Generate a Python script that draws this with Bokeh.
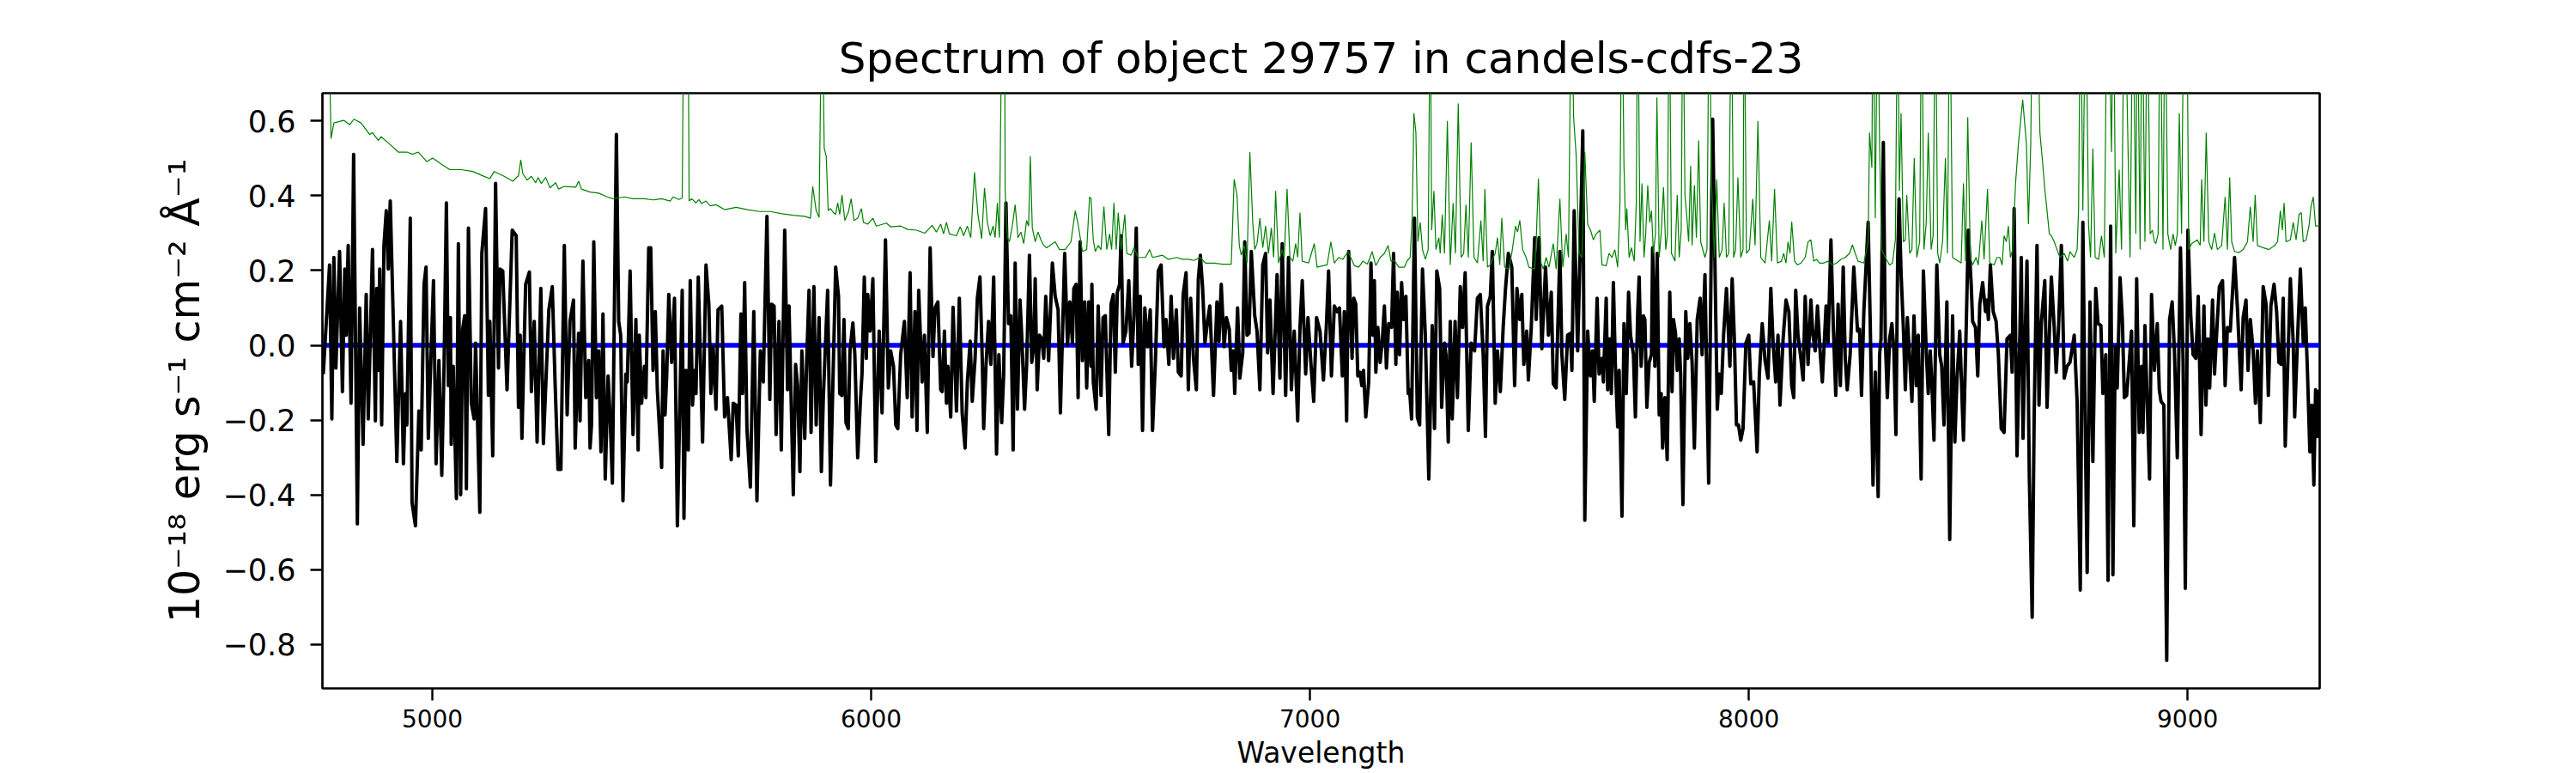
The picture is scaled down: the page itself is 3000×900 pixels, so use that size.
from bokeh.plotting import figure
from bokeh.models import Range1d, FixedTicker, CustomJSTickFormatter, Span
from bokeh.embed import file_html
from bokeh.resources import INLINE

# ---------------- data ----------------
# Object spectrum (black), in 1e-18 erg/s/cm2/A, by wavelength segment (Angstrom)
wl_a = [4751.4, 4765.8, 4771.0, 4775.6, 4780.1, 4788.6, 4795.1, 4800.4, 4803.6, 4808.2, 4814.7, 4820.6, 4829.1, 4834.3, 4842.1, 4849.3, 4853.9, 4863.6, 4870.2, 4873.4, 4876.7, 4880.0, 4884.5, 4889.7, 4895.0, 4899.5, 4904.1, 4919.1, 4927.6, 4934.1, 4938.7, 4941.9, 4949.7, 4953.7, 4961.5, 4969.3, 4974.5, 4981.1, 4985.6, 4990.8, 5002.6, 5008.5, 5015.0, 5021.5, 5026.7, 5032.0, 5036.5, 5041.1, 5043.0, 5047.6, 5054.8, 5059.3, 5064.5, 5069.1, 5073.7, 5077.6, 5082.2, 5088.7, 5095.2, 5098.5, 5108.2, 5112.8, 5121.3, 5127.8, 5131.1, 5137.6, 5144.1, 5150.7, 5153.9, 5160.4, 5170.2, 5182.0, 5191.1, 5196.3, 5200.2, 5204.1, 5212.6, 5221.1, 5225.7, 5232.2, 5238.7, 5247.2, 5253.1, 5265.5, 5273.3, 5279.8, 5286.3, 5292.9, 5300.7, 5307.2, 5313.7, 5321.6, 5325.5]
fx_a = [-0.077, 0.215, -0.197, 0.235, -0.061, 0.251, -0.124, 0.204, 0.027, 0.267, -0.155, 0.511, -0.478, 0.100, -0.265, 0.136, -0.197, 0.256, -0.202, 0.152, -0.067, 0.204, -0.213, 0.267, 0.360, 0.204, 0.386, -0.311, 0.064, -0.317, -0.129, -0.213, 0.340, -0.421, -0.483, -0.176, -0.280, 0.163, 0.209, -0.249, 0.173, -0.317, -0.041, -0.348, -0.056, 0.381, -0.108, 0.074, -0.265, -0.056, -0.410, 0.272, -0.400, 0.043, 0.079, -0.384, 0.314, -0.155, -0.197, 0.006, -0.447, 0.246, 0.366, -0.134, 0.064, -0.296, 0.433, -0.061, 0.204, 0.199, -0.119, 0.308, 0.293, -0.166, 0.027, -0.249, 0.163, 0.196, -0.124, 0.064, -0.259, 0.152, -0.263, 0.095, 0.157, -0.103, -0.332, -0.332, 0.267, -0.186, 0.064, 0.121, -0.275]

wl_b = [5333.3, 5336.6, 5343.1, 5349.6, 5356.2, 5359.4, 5362.7, 5367.9, 5373.8, 5379.0, 5384.2, 5388.8, 5394.0, 5400.5, 5405.1, 5410.3, 5419.4, 5424.7, 5429.2, 5434.4, 5441.0, 5444.2, 5450.7, 5457.3, 5463.8, 5469.0, 5471.6, 5476.8, 5483.4, 5486.6, 5493.1, 5497.7, 5502.9, 5508.1, 5512.7, 5522.5, 5525.8, 5530.3, 5534.2, 5538.8, 5545.3, 5551.8, 5558.4, 5569.4, 5573.4, 5577.9, 5583.2, 5587.7, 5592.9, 5597.5, 5600.8, 5606.0, 5615.8, 5623.6, 5630.1, 5634.7, 5639.9, 5646.4, 5651.0, 5659.5, 5666.0, 5672.5, 5681.0, 5685.6, 5692.1, 5697.3, 5703.2, 5707.1, 5711.7, 5716.9, 5724.7, 5732.5, 5739.7, 5747.5, 5754.1, 5762.5, 5769.1, 5773.0, 5778.8, 5783.4, 5789.9, 5795.2, 5803.0, 5809.5, 5812.8, 5817.3, 5822.6, 5827.8, 5832.3, 5837.6, 5842.1, 5848.6, 5853.2, 5858.4, 5863.0, 5869.5, 5874.7, 5881.3, 5886.5, 5891.0, 5900.8, 5907.3]
fx_b = [0.032, -0.202, 0.225, -0.140, -0.041, -0.275, -0.213, 0.277, -0.140, -0.015, -0.285, 0.084, -0.358, -0.082, -0.192, -0.369, 0.564, 0.064, 0.027, -0.416, -0.077, -0.098, 0.199, -0.239, 0.069, -0.280, 0.027, -0.155, -0.056, -0.140, 0.261, 0.261, -0.067, 0.090, -0.119, -0.327, -0.015, -0.186, -0.077, 0.136, -0.046, 0.126, -0.483, 0.147, -0.463, -0.067, -0.280, 0.173, -0.160, -0.067, -0.129, 0.183, -0.259, 0.215, 0.110, -0.129, -0.004, -0.171, 0.095, 0.105, -0.192, -0.140, -0.306, -0.155, -0.160, -0.296, 0.084, -0.129, 0.168, -0.223, -0.379, 0.090, -0.416, -0.015, -0.098, 0.345, -0.145, 0.110, 0.105, -0.239, 0.064, -0.280, 0.308, -0.119, 0.105, -0.129, -0.400, -0.051, -0.108, -0.338, -0.015, -0.249, -0.035, 0.147, -0.233, 0.157, -0.213, 0.074, -0.338, -0.140, 0.147, -0.374]

wl_c = [5919.1, 5925.6, 5928.3, 5933.5, 5938.0, 5942.6, 5947.8, 5951.7, 5958.3, 5962.8, 5969.3, 5975.9, 5979.1, 5984.3, 5988.9, 5992.2, 5997.4, 6003.9, 6010.4, 6018.3, 6024.8, 6032.6, 6039.1, 6044.4, 6050.9, 6056.1, 6060.7, 6067.2, 6075.7, 6082.2, 6088.7, 6093.3, 6099.8, 6104.4, 6108.3, 6116.1, 6121.3, 6127.9, 6134.4, 6140.9, 6145.5, 6152.0, 6158.5, 6161.8, 6167.0, 6171.6, 6174.8, 6181.3, 6186.6, 6194.4, 6200.9, 6207.4, 6214.0, 6219.2, 6225.7, 6230.3, 6236.8, 6242.0, 6247.9, 6253.1, 6256.4, 6261.6, 6267.5, 6272.7, 6279.2, 6285.7, 6291.0, 6297.5, 6302.0, 6307.2, 6313.1, 6318.3, 6323.5, 6328.1, 6333.3, 6339.2, 6343.1, 6349.6, 6354.2, 6360.7, 6365.9, 6370.5, 6373.8, 6378.3, 6383.6, 6388.8, 6393.3, 6397.9, 6404.4, 6412.9, 6419.4, 6426.0, 6431.2, 6441.0, 6447.5, 6452.7, 6458.6, 6461.8, 6467.1, 6471.6, 6476.2, 6481.4, 6486.6, 6491.2, 6495.8, 6501.0]
fx_c = [0.209, 0.131, -0.129, -0.134, 0.069, -0.207, -0.223, -0.015, 0.060, -0.025, -0.301, -0.140, -0.077, 0.183, -0.035, 0.136, 0.038, 0.178, -0.311, 0.038, -0.181, 0.282, -0.114, -0.015, -0.056, -0.213, -0.223, -0.025, 0.064, -0.140, 0.194, -0.192, 0.090, -0.228, 0.147, -0.098, 0.027, -0.233, 0.261, -0.030, 0.100, 0.116, -0.119, -0.124, 0.038, -0.155, -0.056, -0.192, 0.102, -0.176, 0.126, -0.181, -0.275, -0.098, 0.011, -0.150, -0.035, 0.126, 0.183, -0.035, -0.223, -0.056, 0.064, -0.051, 0.183, -0.291, -0.025, -0.207, -0.077, 0.381, 0.058, 0.079, -0.280, 0.220, -0.171, 0.121, 0.027, -0.171, -0.056, 0.241, -0.046, -0.004, 0.178, -0.119, 0.027, 0.017, -0.035, 0.131, -0.041, 0.220, 0.131, 0.095, -0.181, 0.246, 0.001, 0.116, 0.006, 0.152, 0.163, -0.140, 0.277, -0.041, 0.116, -0.114, 0.116, -0.056]

wl_d = [6503.0, 6506.2, 6512.7, 6517.3, 6523.8, 6528.4, 6533.6, 6541.4, 6546.7, 6551.9, 6556.4, 6561.0, 6566.2, 6569.5, 6574.1, 6580.6, 6587.1, 6593.6, 6598.8, 6604.1, 6608.6, 6613.2, 6618.4, 6623.6, 6630.2, 6636.0, 6641.2, 6647.8, 6654.3, 6660.8, 6667.3, 6671.9, 6678.4, 6683.6, 6688.9, 6695.4, 6700.0, 6706.5, 6711.0, 6717.6, 6722.8, 6728.0, 6734.5, 6741.1, 6745.6, 6750.2, 6755.4, 6760.6, 6767.1, 6771.7, 6780.2, 6788.0, 6792.6, 6797.8, 6804.3, 6809.5, 6816.1, 6820.6, 6825.2, 6828.5, 6835.0, 6840.2, 6846.7, 6851.3, 6856.5, 6861.1, 6866.3, 6874.1, 6879.3, 6885.9, 6892.4, 6898.9, 6903.5, 6908.7, 6915.9, 6925.0, 6931.5, 6936.7, 6944.6, 6951.1, 6957.6, 6964.1, 6972.0, 6977.2, 6982.4, 6990.2, 6995.4, 7002.0, 7008.5, 7015.0, 7022.8, 7030.7, 7037.2, 7042.4, 7048.9, 7055.5, 7062.0, 7067.2, 7073.7, 7078.3, 7083.5, 7088.1]
fx_d = [0.163, -0.098, -0.171, 0.105, -0.134, 0.074, 0.079, -0.239, 0.110, 0.136, -0.072, 0.142, 0.163, 0.293, 0.006, 0.038, 0.173, -0.056, 0.079, 0.314, -0.051, 0.131, -0.228, 0.100, -0.004, 0.095, -0.228, -0.041, 0.199, 0.215, -0.004, 0.069, -0.051, 0.131, -0.035, 0.095, -0.072, -0.082, 0.136, 0.194, -0.119, 0.126, -0.035, -0.119, 0.178, 0.241, 0.152, 0.006, 0.069, 0.105, -0.134, 0.116, 0.011, 0.163, -0.004, 0.074, 0.043, -0.067, -0.015, -0.129, 0.100, -0.088, -0.020, 0.277, 0.027, 0.032, 0.251, 0.079, 0.038, -0.119, 0.215, 0.246, -0.020, 0.121, -0.129, 0.189, -0.088, 0.272, -0.134, 0.235, -0.119, 0.038, -0.202, 0.048, 0.173, -0.077, 0.074, -0.046, -0.150, 0.074, 0.038, -0.093, 0.048, 0.199, -0.082, 0.105, 0.090, 0.100, -0.082, 0.090, -0.202, 0.251]

wl_e = [7095.9, 7099.8, 7104.4, 7109.0, 7114.2, 7118.1, 7122.0, 7127.2, 7133.8, 7139.0, 7143.5, 7146.8, 7150.1, 7154.6, 7159.9, 7165.1, 7169.6, 7174.2, 7179.4, 7185.9, 7190.5, 7195.7, 7199.0, 7204.2, 7208.8, 7213.3, 7218.6, 7223.8, 7227.0, 7231.6, 7238.1, 7244.7, 7249.9, 7256.4, 7262.9, 7270.8, 7278.6, 7283.8, 7289.0, 7295.5, 7300.1, 7306.6, 7309.9, 7315.1, 7319.7, 7324.2, 7330.7, 7336.0, 7342.5, 7347.7, 7353.6, 7360.8, 7367.3, 7375.1, 7381.6, 7388.2, 7394.7, 7399.9, 7404.5, 7411.0, 7415.5, 7422.1, 7427.3, 7433.8, 7440.3, 7445.6, 7452.1, 7459.9, 7466.4, 7471.7, 7478.2, 7482.7, 7487.3, 7493.8, 7497.7, 7504.3, 7512.1, 7515.4, 7521.9, 7528.4, 7536.9, 7543.4, 7549.9, 7554.5, 7561.0, 7569.5, 7574.1, 7580.6, 7587.1, 7593.6, 7596.9, 7602.1, 7610.0, 7615.2, 7621.7, 7626.3, 7632.8, 7639.3, 7643.9, 7647.8, 7654.3, 7658.9, 7665.4, 7668.6, 7675.1]
fx_e = [-0.035, 0.126, 0.110, -0.082, -0.072, -0.108, -0.067, -0.192, -0.098, 0.220, 0.027, 0.173, -0.072, 0.048, -0.046, 0.017, 0.105, -0.061, 0.058, 0.048, 0.246, -0.051, 0.142, -0.025, 0.168, 0.069, 0.131, -0.129, -0.119, -0.197, 0.340, -0.192, -0.213, 0.204, 0.027, -0.358, 0.053, -0.223, 0.199, 0.152, -0.166, 0.006, -0.025, -0.259, 0.064, -0.197, 0.064, -0.140, 0.157, 0.048, 0.194, -0.228, 0.006, -0.015, 0.126, 0.136, -0.025, -0.244, 0.105, 0.131, 0.251, -0.155, -0.015, -0.124, 0.048, 0.152, 0.246, 0.209, -0.108, 0.152, 0.069, 0.136, -0.051, 0.038, -0.093, 0.048, 0.288, 0.069, 0.288, -0.009, 0.209, 0.027, 0.142, -0.103, -0.114, 0.251, -0.025, -0.145, 0.027, 0.032, -0.067, 0.360, -0.015, 0.230, 0.574, -0.468, 0.038, -0.082, -0.015, -0.150, 0.126, -0.077, -0.035, -0.098, 0.126]

wl_f = [7678.4, 7682.9, 7686.8, 7691.4, 7696.0, 7701.2, 7704.5, 7711.0, 7715.5, 7720.8, 7726.0, 7730.5, 7737.1, 7741.6, 7746.9, 7750.1, 7754.7, 7759.9, 7763.2, 7767.7, 7772.9, 7778.2, 7780.8, 7786.0, 7791.2, 7795.8, 7800.3, 7803.6, 7808.8, 7814.0, 7819.9, 7825.1, 7828.4, 7833.0, 7836.9, 7841.4, 7844.7, 7849.9, 7856.4, 7861.0, 7865.6, 7870.8, 7876.0, 7882.5, 7889.1, 7893.6, 7900.1, 7908.6, 7917.7, 7924.3, 7928.2, 7932.7, 7937.3, 7942.5, 7949.1, 7956.9, 7962.1, 7967.3, 7971.9, 7976.5, 7981.7, 7986.9, 7993.4, 8000.0, 8004.5, 8011.0, 8018.9, 8024.1, 8030.6, 8037.1, 8043.7, 8050.2, 8055.4, 8061.3, 8066.5, 8071.1, 8078.2, 8084.8, 8091.3, 8097.8, 8102.4, 8106.9, 8112.1, 8118.7, 8123.9, 8128.5, 8135.0, 8141.5, 8146.1, 8151.3, 8156.5, 8163.0, 8167.6, 8176.1, 8180.6, 8187.2, 8192.4, 8198.2, 8203.5, 8208.7, 8215.2, 8219.8, 8224.3, 8230.9, 8239.3, 8247.8, 8252.4, 8256.9, 8262.2]
fx_f = [-0.119, 0.017, -0.129, 0.168, -0.056, -0.218, -0.067, -0.457, 0.058, -0.129, 0.142, 0.027, -0.025, -0.192, 0.090, 0.183, -0.056, 0.079, 0.069, -0.166, -0.046, -0.025, 0.261, -0.056, 0.246, -0.186, -0.129, -0.275, -0.140, -0.306, 0.142, -0.124, 0.069, 0.032, -0.067, 0.017, -0.077, -0.426, 0.090, -0.035, 0.058, -0.046, -0.275, 0.069, 0.126, -0.025, 0.189, -0.369, 0.605, 0.110, -0.171, -0.077, -0.129, 0.027, 0.152, -0.056, 0.178, 0.011, -0.213, -0.213, -0.254, -0.223, 0.006, 0.027, -0.103, -0.098, -0.285, -0.077, 0.058, -0.041, -0.088, 0.152, 0.006, -0.098, 0.027, -0.160, 0.017, 0.121, 0.090, -0.108, -0.140, 0.147, 0.027, -0.035, -0.093, 0.131, -0.051, 0.121, 0.027, -0.015, 0.105, -0.025, -0.098, 0.105, 0.006, 0.282, 0.058, -0.134, 0.110, -0.108, 0.209, -0.035, -0.119, -0.025, 0.209, 0.038, 0.043, -0.134, 0.090]

wl_g = [8272.0, 8276.6, 8283.1, 8288.3, 8294.8, 8298.1, 8301.3, 8306.6, 8311.1, 8315.7, 8320.9, 8326.1, 8330.7, 8335.3, 8339.2, 8342.4, 8347.0, 8352.2, 8356.8, 8361.3, 8366.6, 8371.8, 8376.4, 8381.6, 8386.1, 8392.7, 8397.9, 8404.4, 8409.0, 8413.5, 8417.4, 8422.0, 8428.5, 8435.1, 8439.6, 8444.8, 8451.4, 8457.9, 8464.4, 8469.6, 8474.2, 8480.7, 8489.2, 8495.7, 8500.3, 8506.8, 8510.1, 8516.6, 8521.8, 8526.4, 8532.9, 8539.4, 8542.7, 8546.0, 8550.5, 8557.0, 8563.6, 8568.8, 8575.3, 8581.8, 8588.4, 8596.2, 8600.1, 8604.7, 8611.2, 8617.7, 8621.0, 8624.9, 8628.8, 8634.0, 8639.2, 8645.8, 8650.3, 8656.8, 8661.4, 8666.6, 8674.5, 8679.7, 8684.9, 8689.5, 8696.0, 8700.5, 8705.8, 8712.3, 8718.8, 8725.3, 8731.9, 8741.6, 8748.2]
fx_g = [0.329, 0.069, -0.374, -0.072, -0.405, -0.025, 0.017, 0.543, 0.017, -0.140, 0.017, 0.058, -0.015, -0.239, 0.225, 0.392, 0.194, 0.048, -0.119, 0.074, -0.035, -0.150, 0.079, -0.108, 0.027, -0.358, 0.199, -0.015, -0.129, -0.015, -0.108, -0.254, 0.215, -0.025, -0.056, -0.213, 0.116, -0.520, 0.079, -0.259, -0.098, 0.038, -0.254, 0.058, 0.308, 0.163, 0.064, 0.048, -0.082, 0.110, 0.168, 0.090, 0.121, 0.069, 0.215, 0.090, 0.064, -0.025, -0.223, -0.233, 0.017, 0.027, -0.072, 0.366, -0.296, 0.027, 0.235, -0.249, -0.025, 0.225, -0.348, -0.728, -0.192, 0.267, -0.160, 0.058, 0.173, -0.166, 0.027, 0.183, 0.048, -0.072, 0.043, 0.267, -0.088, -0.056, -0.046, 0.027, -0.150]

wl_h = [8755.4, 8761.3, 8765.9, 8771.1, 8777.6, 8784.1, 8790.6, 8795.9, 8802.4, 8807.0, 8813.5, 8818.7, 8824.6, 8829.8, 8835.0, 8839.6, 8846.1, 8851.3, 8855.9, 8861.1, 8867.6, 8872.2, 8877.4, 8883.9, 8889.8, 8895.0, 8898.3, 8902.8, 8908.1, 8913.3, 8917.8, 8924.4, 8930.9, 8935.5, 8939.4, 8945.9, 8952.4, 8958.9, 8964.8, 8970.0, 8976.5, 8983.7, 8989.6, 8994.8, 9000.7, 9007.2, 9012.4, 9018.9, 9024.2, 9030.7, 9037.2, 9041.8, 9046.3, 9050.3, 9056.8, 9061.3, 9067.9, 9072.4, 9079.6, 9085.5, 9090.7, 9097.2, 9107.0, 9113.5, 9122.0, 9126.6, 9133.1, 9137.7, 9142.9, 9149.4, 9154.6, 9159.2, 9165.7, 9172.2, 9178.8, 9184.0, 9189.8, 9197.0, 9202.9, 9208.1, 9213.3, 9217.9, 9222.5, 9229.0, 9234.2, 9240.7, 9244.0, 9250.5, 9257.0, 9263.6, 9268.1, 9273.3, 9278.6, 9283.1, 9287.7, 9291.6, 9296.2, 9299.4]
fx_h = [-0.655, 0.329, -0.140, -0.608, 0.116, -0.311, 0.152, 0.058, 0.053, -0.129, -0.025, -0.629, 0.319, -0.614, -0.004, -0.114, 0.181, 0.069, -0.140, -0.134, -0.035, 0.038, -0.483, 0.178, -0.233, -0.056, -0.233, 0.053, -0.160, -0.358, 0.136, -0.067, 0.058, -0.119, -0.150, -0.160, -0.843, 0.069, 0.116, -0.015, -0.301, 0.261, -0.035, -0.650, 0.308, 0.079, -0.025, -0.035, 0.131, -0.239, 0.105, -0.160, 0.017, -0.114, 0.121, -0.077, 0.069, 0.157, 0.173, -0.108, 0.048, 0.038, 0.235, 0.100, -0.119, 0.074, 0.121, -0.067, 0.069, -0.015, -0.155, -0.015, -0.207, 0.157, 0.110, -0.134, 0.105, 0.163, 0.090, -0.046, -0.051, 0.126, -0.270, -0.025, 0.178, 0.006, -0.192, 0.017, 0.204, 0.006, 0.100, -0.077, -0.285, -0.160, -0.374, -0.119, -0.244, -0.119]

# Noise / sky spectrum (green); sky-line peaks run far above the top of the axes
gwl_a = [4762.0, 4769.1, 4775.6, 4798.4, 4811.5, 4821.2, 4837.5, 4857.1, 4863.6, 4876.7, 4883.2, 4902.8, 4922.3, 4941.9, 4955.0, 4968.0, 4987.6, 5000.6, 5020.2, 5039.8, 5065.9, 5092.0, 5118.0, 5131.1, 5140.9, 5163.7, 5183.3, 5196.3, 5201.5, 5206.1, 5215.9, 5225.7, 5235.5, 5240.7, 5248.5, 5258.3, 5268.1, 5281.1, 5287.6, 5300.7, 5326.8]
gv_a = [1.0, 0.553, 0.595, 0.602, 0.590, 0.605, 0.595, 0.564, 0.569, 0.548, 0.558, 0.538, 0.517, 0.517, 0.511, 0.517, 0.491, 0.501, 0.485, 0.470, 0.470, 0.465, 0.452, 0.446, 0.465, 0.452, 0.439, 0.454, 0.496, 0.459, 0.442, 0.452, 0.435, 0.449, 0.433, 0.449, 0.421, 0.435, 0.418, 0.425, 0.423]

gwl_b = [5333.3, 5339.8, 5359.4, 5379.0, 5398.6, 5411.6, 5437.7, 5457.3, 5483.4, 5502.9, 5522.5, 5542.1, 5548.6, 5561.6, 5569.4, 5573.4, 5582.5, 5585.1, 5591.0, 5600.8, 5607.3, 5613.8, 5623.6, 5633.4, 5646.4, 5666.0, 5692.1, 5718.2, 5744.3, 5770.4, 5796.5, 5822.6, 5848.6, 5861.7, 5866.9, 5874.7, 5881.3, 5887.8, 5893.0, 5897.6, 5902.1, 5907.3, 5913.9]
gv_b = [0.439, 0.418, 0.410, 0.407, 0.397, 0.392, 0.397, 0.392, 0.392, 0.389, 0.392, 0.386, 0.397, 0.390, 0.394, 1.0, 1.0, 0.386, 0.392, 0.381, 0.390, 0.379, 0.386, 0.373, 0.376, 0.363, 0.369, 0.363, 0.358, 0.358, 0.352, 0.348, 0.345, 0.340, 0.425, 0.360, 0.342, 1.0, 0.527, 0.506, 0.360, 0.366, 0.355]

gwl_c = [5919.1, 5923.7, 5928.3, 5933.5, 5940.0, 5947.8, 5954.3, 5960.9, 5969.3, 5977.8, 5982.4, 5992.2, 6003.9, 6011.7, 6034.6, 6044.4, 6067.2, 6083.5, 6103.1, 6122.6, 6138.9, 6148.7, 6158.5, 6165.0, 6171.6, 6178.1, 6194.4, 6202.9, 6210.7, 6219.2, 6227.0, 6235.5, 6243.3, 6251.8, 6258.3, 6264.8, 6271.4, 6277.9, 6282.5, 6287.7, 6292.2, 6298.8, 6304.0, 6305.3, 6310.5, 6315.1, 6321.6, 6328.1, 6334.6, 6341.2, 6347.7, 6354.2, 6358.8, 6362.7, 6367.2, 6373.8, 6380.3, 6386.8, 6393.3, 6399.9, 6412.9, 6419.4, 6429.2, 6442.3, 6455.3, 6465.1, 6471.6, 6481.4, 6491.2, 6497.7]
gv_c = [0.350, 0.381, 0.350, 0.402, 0.334, 0.355, 0.392, 0.334, 0.340, 0.366, 0.329, 0.324, 0.340, 0.319, 0.327, 0.317, 0.319, 0.310, 0.308, 0.300, 0.321, 0.303, 0.324, 0.298, 0.329, 0.298, 0.293, 0.317, 0.293, 0.319, 0.288, 0.463, 0.350, 0.285, 0.421, 0.329, 0.293, 0.319, 0.288, 0.381, 0.288, 1.0, 1.0, 0.413, 0.288, 0.277, 0.319, 0.376, 0.288, 0.303, 0.272, 0.334, 0.319, 0.506, 0.314, 0.277, 0.303, 0.282, 0.267, 0.261, 0.272, 0.277, 0.256, 0.256, 0.277, 0.360, 0.324, 0.251, 0.256, 0.397]

gwl_d = [6501.0, 6506.2, 6510.8, 6517.3, 6523.8, 6530.4, 6536.9, 6543.4, 6548.0, 6553.2, 6558.4, 6563.0, 6569.5, 6578.0, 6582.5, 6592.3, 6598.8, 6608.6, 6624.9, 6634.7, 6641.2, 6664.1, 6677.1, 6696.7, 6709.7, 6722.8, 6735.8, 6748.9, 6761.9, 6781.5, 6801.1, 6820.6, 6827.2, 6833.7, 6838.9, 6843.5, 6850.0, 6856.5, 6863.0, 6869.6, 6874.1, 6879.3, 6885.9, 6892.4, 6898.9, 6905.4, 6912.0, 6917.2, 6921.7, 6928.3, 6936.7, 6941.3, 6947.8, 6954.3, 6960.9, 6967.4, 6972.0, 6977.2, 6982.4, 6996.7, 7003.3, 7009.8, 7016.3, 7029.4, 7039.1, 7047.6, 7055.5, 7065.2, 7075.0, 7086.8]
gv_d = [0.392, 0.282, 0.251, 0.267, 0.256, 0.371, 0.256, 0.298, 0.256, 0.381, 0.256, 0.355, 0.256, 0.350, 0.246, 0.241, 0.261, 0.235, 0.235, 0.256, 0.235, 0.241, 0.230, 0.235, 0.230, 0.230, 0.227, 0.235, 0.220, 0.220, 0.217, 0.217, 0.444, 0.402, 0.267, 0.241, 0.267, 0.220, 0.517, 0.329, 0.256, 0.272, 0.340, 0.261, 0.319, 0.246, 0.314, 0.235, 0.413, 0.220, 0.256, 0.235, 0.418, 0.235, 0.225, 0.272, 0.235, 0.355, 0.225, 0.220, 0.246, 0.272, 0.209, 0.213, 0.215, 0.277, 0.220, 0.235, 0.230, 0.251]

gwl_e = [7101.1, 7110.9, 7120.7, 7130.5, 7137.0, 7141.6, 7150.1, 7159.9, 7169.6, 7178.1, 7184.6, 7192.5, 7202.3, 7215.3, 7221.8, 7228.3, 7232.9, 7236.8, 7241.4, 7245.9, 7251.2, 7256.4, 7262.9, 7269.4, 7274.0, 7277.3, 7282.5, 7287.0, 7293.6, 7296.8, 7301.4, 7306.6, 7313.1, 7319.7, 7326.2, 7331.4, 7337.9, 7344.5, 7350.3, 7355.5, 7360.8, 7367.3, 7373.8, 7381.6, 7389.5, 7394.7, 7398.6, 7404.5, 7411.0, 7417.5, 7422.1, 7427.3, 7432.5, 7437.1, 7443.6, 7453.4, 7461.2, 7468.4, 7473.0, 7478.2, 7484.7, 7492.5, 7499.0, 7512.1, 7515.4, 7520.6, 7526.4, 7531.7, 7538.2, 7544.7, 7554.5, 7561.0, 7569.5, 7576.0, 7583.9, 7589.1, 7595.6, 7600.8, 7606.7, 7613.2, 7619.7, 7626.3, 7632.8, 7639.3, 7645.8, 7652.3, 7660.8, 7665.4, 7675.1]
gv_e = [0.213, 0.209, 0.225, 0.217, 0.235, 0.251, 0.213, 0.235, 0.246, 0.267, 0.225, 0.227, 0.209, 0.209, 0.227, 0.235, 0.340, 0.621, 0.569, 0.277, 0.329, 0.256, 0.230, 0.256, 1.0, 0.308, 0.413, 0.256, 0.288, 0.246, 0.350, 0.246, 0.600, 0.215, 0.381, 0.246, 0.647, 0.235, 0.246, 0.376, 0.235, 0.543, 0.235, 0.220, 0.334, 0.225, 0.418, 0.209, 0.215, 0.235, 0.246, 0.288, 0.215, 0.340, 0.209, 0.204, 0.256, 0.319, 0.303, 0.334, 0.256, 0.235, 0.209, 0.204, 0.277, 0.446, 0.220, 0.204, 0.235, 0.209, 0.272, 0.204, 0.392, 0.209, 0.298, 0.235, 1.0, 0.610, 0.506, 0.246, 0.235, 0.517, 0.324, 0.308, 0.282, 0.298, 0.308, 0.215, 0.213]

gwl_f = [7681.6, 7688.1, 7694.7, 7701.2, 7706.4, 7711.0, 7715.5, 7719.5, 7722.1, 7727.3, 7732.5, 7739.0, 7743.6, 7746.9, 7752.1, 7756.6, 7761.2, 7765.1, 7769.7, 7774.3, 7778.2, 7782.7, 7787.3, 7790.6, 7795.8, 7800.3, 7805.6, 7810.8, 7814.7, 7818.6, 7823.8, 7831.7, 7836.9, 7841.4, 7846.0, 7849.9, 7854.5, 7859.0, 7862.9, 7867.5, 7870.8, 7876.0, 7880.6, 7885.8, 7890.4, 7900.1, 7904.7, 7909.9, 7915.1, 7921.7, 7926.9, 7932.7, 7939.3, 7943.8, 7949.1, 7954.3, 7960.2, 7965.4, 7969.9, 7975.2, 7981.7, 7986.9, 7989.5, 7994.7, 8001.3, 8009.1, 8014.3, 8020.8, 8027.3, 8037.1, 8046.9, 8052.1, 8058.7, 8065.2, 8074.3, 8079.5, 8084.8, 8089.3, 8093.9, 8097.8, 8104.3, 8110.9, 8118.7, 8128.5, 8135.0, 8141.5, 8148.0, 8154.5, 8161.1, 8170.8, 8180.6, 8190.4, 8200.2, 8210.0, 8219.8, 8229.5, 8236.1, 8242.6, 8249.1, 8262.2]
gv_f = [0.246, 0.235, 0.256, 0.209, 0.381, 1.0, 0.485, 0.308, 0.366, 0.235, 0.261, 0.225, 0.381, 1.0, 0.277, 0.433, 0.235, 0.298, 0.428, 0.329, 0.360, 0.246, 0.298, 0.663, 0.235, 0.298, 0.423, 0.256, 0.298, 1.0, 0.246, 0.225, 0.402, 0.235, 0.308, 1.0, 0.402, 0.340, 0.277, 0.480, 0.267, 0.428, 0.288, 0.548, 0.277, 0.235, 0.256, 1.0, 0.433, 0.235, 0.444, 0.235, 0.256, 0.381, 0.235, 0.246, 1.0, 0.235, 0.256, 0.449, 0.235, 0.256, 1.0, 0.246, 0.256, 0.392, 0.267, 0.600, 0.235, 0.220, 0.334, 0.225, 0.418, 0.220, 0.225, 0.246, 0.220, 0.277, 0.246, 0.331, 0.225, 0.215, 0.220, 0.235, 0.277, 0.282, 0.225, 0.230, 0.220, 0.220, 0.225, 0.215, 0.220, 0.230, 0.235, 0.246, 0.269, 0.246, 0.225, 0.220]

gwl_g = [8272.0, 8275.2, 8280.5, 8283.1, 8288.3, 8293.5, 8298.1, 8302.6, 8311.1, 8320.9, 8327.4, 8334.0, 8339.2, 8343.1, 8347.0, 8352.2, 8356.8, 8360.0, 8366.6, 8371.8, 8377.0, 8382.9, 8389.4, 8394.0, 8399.2, 8404.4, 8409.0, 8415.5, 8420.1, 8425.3, 8430.5, 8435.1, 8441.6, 8448.1, 8452.7, 8457.9, 8464.4, 8471.0, 8477.5, 8484.0, 8489.2, 8493.8, 8499.0, 8504.9, 8510.1, 8517.9, 8523.1, 8531.0, 8536.2, 8544.0, 8549.2, 8559.0, 8565.5, 8572.0, 8577.3, 8581.8, 8587.0, 8591.6, 8596.2, 8601.4, 8607.9, 8614.4, 8624.2, 8632.7, 8637.3, 8642.5, 8647.1, 8656.8, 8663.4, 8669.9, 8674.5, 8679.7, 8684.9, 8689.5, 8696.0, 8702.5, 8709.0, 8718.8, 8726.6, 8731.9, 8741.6, 8748.2]
gv_g = [0.277, 0.569, 0.475, 1.0, 0.340, 1.0, 0.538, 0.256, 0.235, 0.215, 0.220, 0.282, 1.0, 0.413, 0.621, 0.277, 0.282, 0.402, 0.246, 0.256, 0.501, 0.235, 0.277, 1.0, 0.256, 0.329, 0.569, 0.256, 0.293, 1.0, 0.246, 0.220, 0.277, 0.501, 0.246, 1.0, 0.235, 0.230, 0.225, 0.220, 0.433, 0.225, 0.610, 0.235, 0.215, 0.235, 0.215, 0.334, 0.230, 0.418, 0.220, 0.215, 0.235, 0.235, 0.215, 0.293, 0.277, 0.319, 0.235, 0.256, 0.433, 0.538, 0.657, 0.538, 0.324, 0.538, 1.0, 1.0, 0.569, 0.485, 0.418, 0.360, 0.298, 0.293, 0.277, 0.256, 0.235, 0.246, 0.225, 0.251, 0.235, 0.256]

gwl_h = [8751.5, 8756.0, 8761.3, 8767.8, 8774.3, 8778.9, 8784.1, 8789.3, 8797.2, 8803.7, 8810.2, 8816.7, 8819.3, 8826.5, 8831.1, 8836.3, 8844.1, 8849.4, 8855.9, 8862.4, 8868.9, 8875.4, 8882.0, 8885.2, 8891.7, 8896.3, 8902.8, 8908.1, 8914.6, 8919.8, 8924.4, 8927.6, 8932.8, 8937.4, 8943.9, 8948.5, 8955.0, 8961.5, 8966.8, 8972.0, 8976.5, 8981.1, 8986.3, 8991.5, 8998.1, 9002.6, 9009.2, 9015.7, 9022.2, 9028.7, 9032.0, 9037.2, 9042.4, 9048.3, 9054.8, 9061.3, 9067.9, 9077.7, 9085.5, 9090.7, 9095.9, 9100.5, 9107.0, 9116.8, 9126.6, 9136.4, 9142.9, 9149.4, 9154.0, 9159.2, 9172.2, 9185.3, 9198.3, 9204.9, 9211.4, 9215.9, 9219.9, 9224.4, 9234.2, 9240.7, 9247.3, 9253.8, 9259.0, 9263.6, 9270.1, 9276.6, 9281.2, 9286.4, 9291.6, 9301.0]
gv_h = [0.360, 1.0, 0.360, 1.0, 0.319, 0.235, 0.527, 0.235, 0.230, 0.293, 0.235, 1.0, 1.0, 0.517, 1.0, 0.246, 0.470, 0.256, 1.0, 0.642, 0.235, 1.0, 0.298, 1.0, 0.256, 1.0, 0.277, 1.0, 0.298, 0.308, 0.277, 0.272, 0.298, 1.0, 0.256, 1.0, 0.298, 0.256, 0.298, 0.267, 0.298, 0.621, 0.298, 1.0, 1.0, 0.256, 0.272, 0.277, 0.282, 0.267, 0.444, 0.277, 0.569, 0.277, 0.256, 0.300, 0.256, 0.267, 0.397, 0.256, 0.449, 0.277, 0.251, 0.248, 0.256, 0.277, 0.371, 0.277, 0.402, 0.267, 0.261, 0.256, 0.267, 0.277, 0.360, 0.308, 0.381, 0.277, 0.282, 0.329, 0.282, 0.350, 0.355, 0.277, 0.282, 0.319, 0.371, 0.397, 0.319, 0.319]

x_ticks = [5000, 6000, 7000, 8000, 9000]
y_ticks = [-0.8, -0.6, -0.4, -0.2, 0.0, 0.2, 0.4, 0.6]
title_text = "Spectrum of object 29757 in candels-cdfs-23"
x_label = "Wavelength"
y_label = "10\u207b\u00b9\u2078 erg s\u207b\u00b9 cm\u207b\u00b2 \u00c5\u207b\u00b9"

# ---------------- assemble ----------------
def join(pairs):
    xs, ys = [], []
    for wl, fx in pairs:
        for a, b in zip(wl, fx):
            xs.append(a)
            ys.append(b)
    return xs, ys

wave, flux = join([(wl_a, fx_a), (wl_b, fx_b), (wl_c, fx_c), (wl_d, fx_d),
                   (wl_e, fx_e), (wl_f, fx_f), (wl_g, fx_g), (wl_h, fx_h)])
sky_wave, sky = join([(gwl_a, gv_a), (gwl_b, gv_b), (gwl_c, gv_c), (gwl_d, gv_d),
                      (gwl_e, gv_e), (gwl_f, gv_f), (gwl_g, gv_g), (gwl_h, gv_h)])

FONT = "DejaVu Sans"

p = figure(width=3000, height=900, output_backend="svg", toolbar_location=None,
           x_range=Range1d(4749.5, 9301.0), y_range=Range1d(-0.918, 0.6745),
           min_border_left=375, min_border_right=299,
           min_border_top=108, min_border_bottom=99,
           title=title_text)

p.background_fill_color = "white"
p.border_fill_color = "white"
p.outline_line_color = "black"
p.outline_line_width = 2.7
p.grid.visible = False

p.title.text_font = FONT
p.title.text_font_size = "50px"
p.title.text_font_style = "normal"
p.title.text_color = "black"
p.title.align = "center"
p.title.standoff = 23

for ax in (p.xaxis[0], p.yaxis[0]):
    ax.axis_line_color = None
    ax.major_tick_line_color = "black"
    ax.major_tick_line_width = 2.4
    ax.major_tick_out = 14
    ax.major_tick_in = 0
    ax.minor_tick_line_color = None
    ax.major_label_text_font = FONT
    ax.major_label_text_color = "black"
    ax.axis_label_text_font = FONT
    ax.axis_label_text_color = "black"
    ax.axis_label_text_font_style = "normal"

p.xaxis.ticker = FixedTicker(ticks=x_ticks)
p.xaxis.formatter = CustomJSTickFormatter(code="return tick.toFixed(0);")
p.xaxis.major_label_text_font_size = "28px"
p.xaxis.major_label_standoff = 10
p.xaxis.axis_label = x_label
p.xaxis.axis_label_text_font_size = "33px"
p.xaxis.axis_label_standoff = 7

p.yaxis.ticker = FixedTicker(ticks=y_ticks)
p.yaxis.formatter = CustomJSTickFormatter(
    code="return tick.toFixed(1).replace('-', '\u2212');")
p.yaxis.major_label_text_font_size = "35px"
p.yaxis.major_label_standoff = 17
p.yaxis.axis_label = y_label
p.yaxis.axis_label_text_font_size = "49px"
p.yaxis.axis_label_standoff = 13

zero = Span(location=0, dimension="width", line_color="#0000ff",
            line_width=5.5, level="underlay")
p.add_layout(zero)

p.line(wave, flux, line_color="black", line_width=4.0, line_join="round")
p.line(sky_wave, sky, line_color="#008000", line_width=1.2)

with open("out.html", "w", encoding="utf-8") as f:
    f.write(file_html(p, INLINE))
